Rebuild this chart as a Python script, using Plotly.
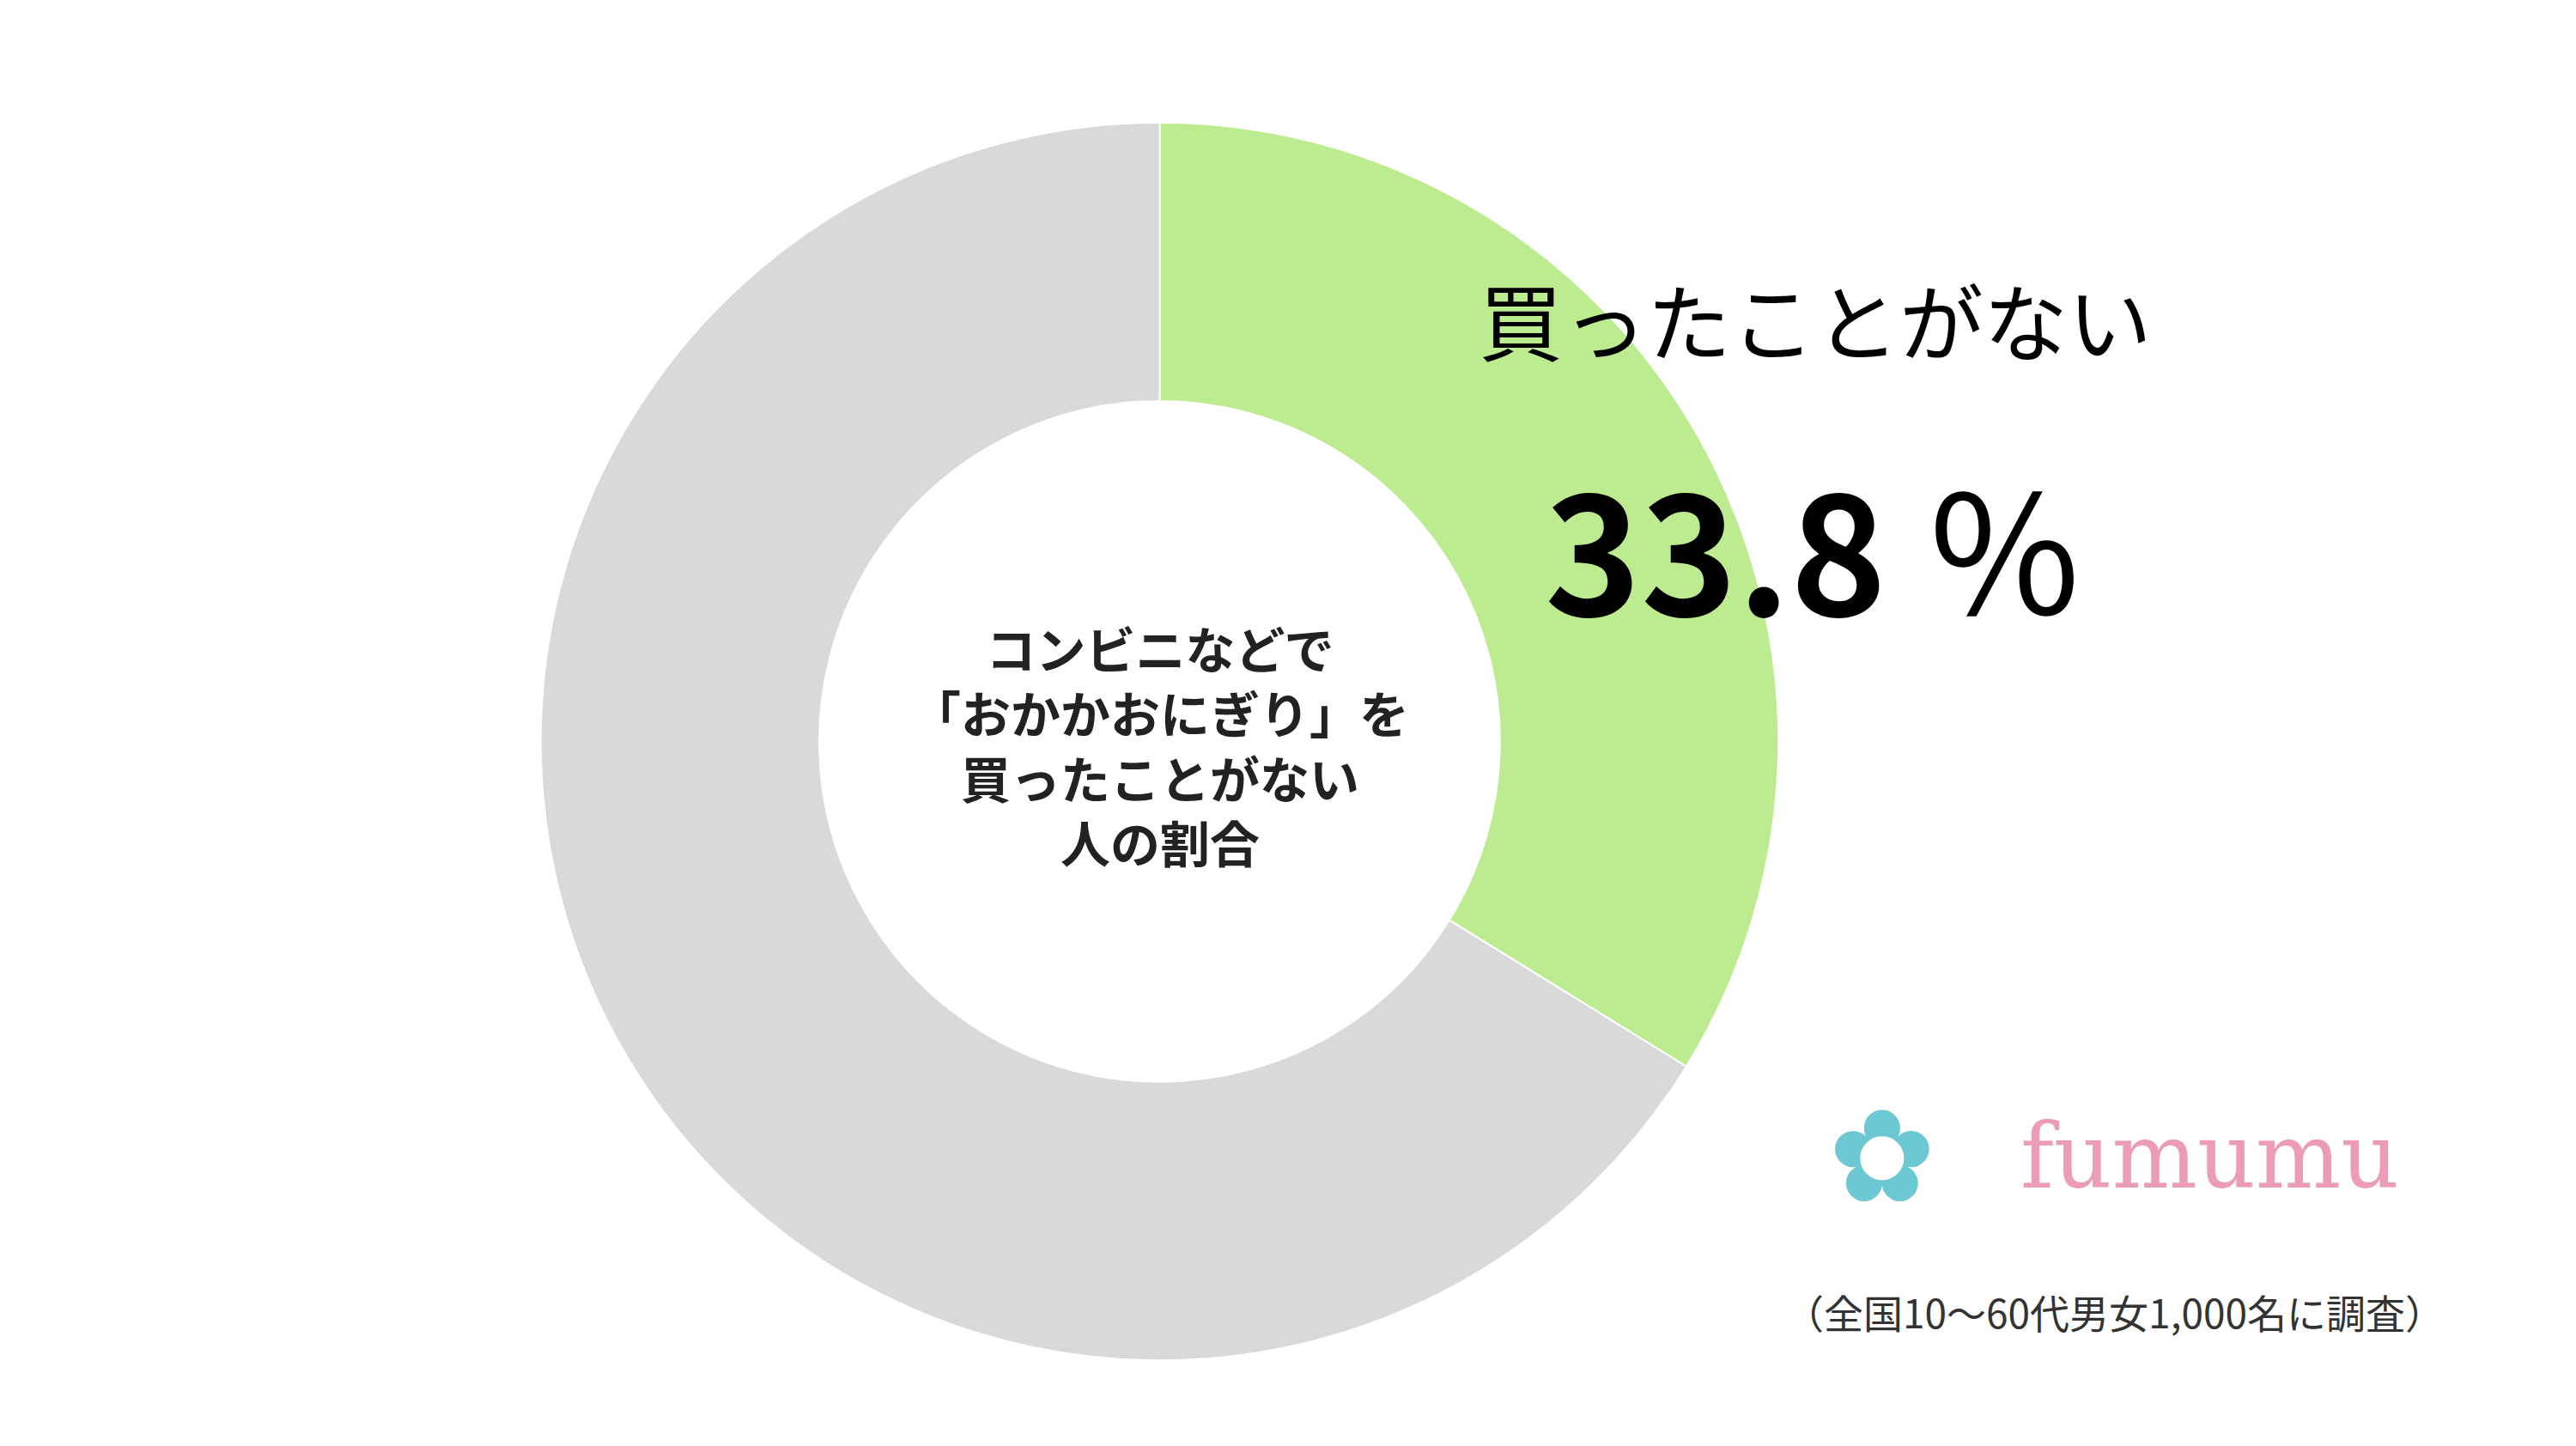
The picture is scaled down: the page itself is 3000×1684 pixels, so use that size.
import plotly.graph_objects as go

labels = ["買ったことがない", "その他"]
values = [33.8, 66.2]
colors = ["#bdec90", "#d9d9d9"]

font = "Noto Sans CJK JP"

fig = go.Figure(go.Pie(
    labels=labels, values=values, hole=0.55, sort=False,
    direction="clockwise", rotation=0,
    marker=dict(colors=colors, line=dict(color="white", width=2)),
    textinfo="none", hoverinfo="label+percent",
    domain=dict(x=[0.207, 0.688], y=[0.064, 0.92]),
))

def note(x, y, text, size, color="black", family=font):
    fig.add_annotation(x=x, y=y, xref="paper", yref="paper", showarrow=False,
                       xanchor="center", yanchor="middle", text=text,
                       font=dict(family=family, size=size, color=color))

note(0.4475, 0.49, "<b>コンビニなどで<br>「おかかおにぎり」を<br>買ったことがない<br>人の割合</b>", 58, "#222")
note(0.702, 0.785, labels[0], 98)
note(0.702, 0.628, f"<b>{values[0]}</b> ％", 190)
note(0.728, 0.205, "✿", 150, "#6cc9d3", "DejaVu Sans")
note(0.855, 0.205, "fumumu", 105, "#ec9bb8", "DejaVu Serif")
note(0.818, 0.098, "（全国10～60代男女1,000名に調査）", 46, "#333")

fig.update_layout(width=3000, height=1684, showlegend=False,
                  margin=dict(l=0, r=0, t=0, b=0),
                  paper_bgcolor="white", plot_bgcolor="white")
fig.write_html("out.html")
